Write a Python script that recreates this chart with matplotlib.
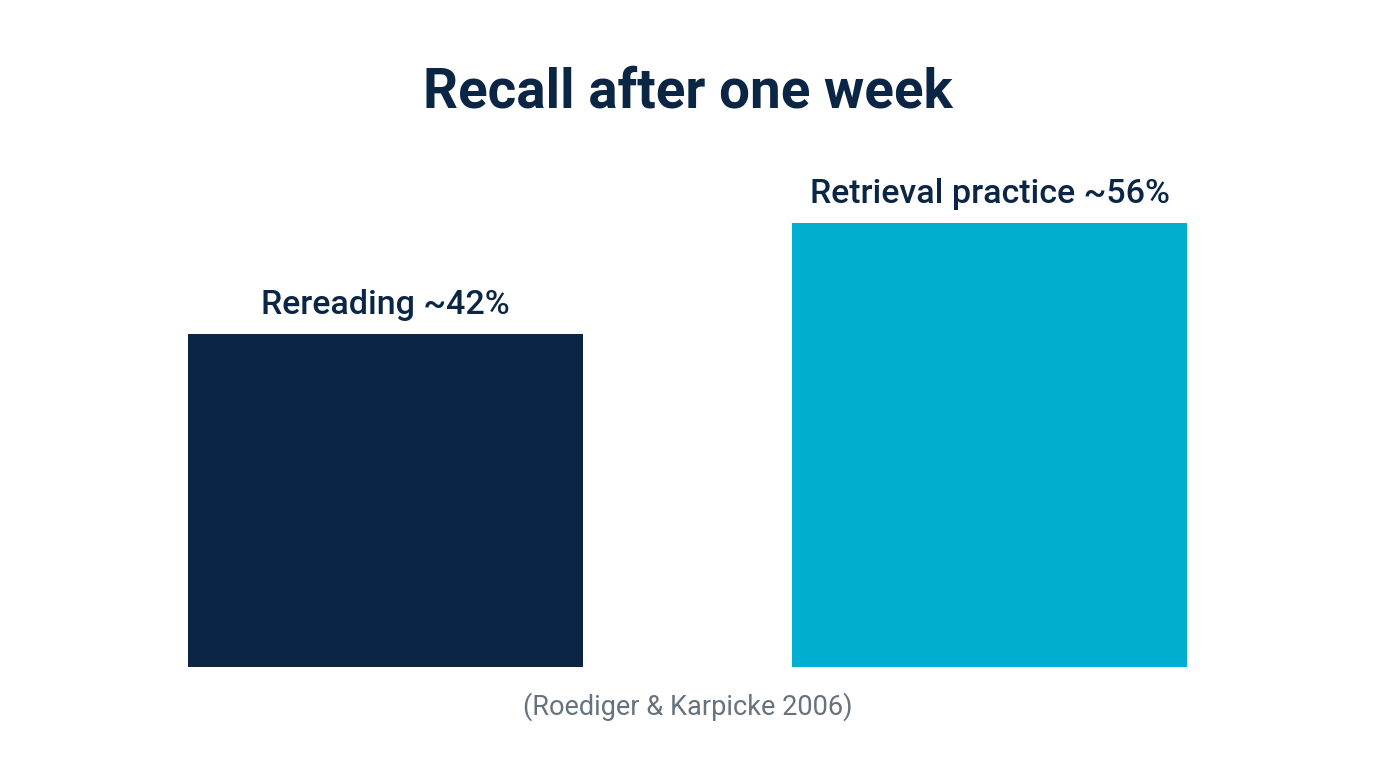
import numpy as np
import matplotlib.pyplot as plt
import matplotlib as mpl

mpl.rc('font', family='Roboto')

# Data
methods = ["Rereading", "Retrieval practice"]
recall = [42, 56]
labels = ["Rereading ~42%", "Retrieval practice ~56%"]
colors = ["#0b2644", "#00afcf"]

fig = plt.figure(figsize=(13.76, 7.68), dpi=100)
ax = fig.add_axes([0.0607, 0.1315, 0.878, 0.620])

x = np.arange(len(methods))
ax.bar(x, recall, width=0.654, color=colors)
ax.set_xlim(-0.5, 1.5)
ax.set_ylim(0, 60)
ax.axis('off')

for xi, v, lab in zip(x, recall, labels):
    ax.annotate(lab, (xi, v), xytext=(0, 14.4), textcoords='offset points',
                ha='center', va='baseline', fontsize=24.5, fontweight='medium',
                color="#0b2644")

fig.text(0.5, 1 - 107/768, "Recall after one week", ha='center', va='baseline',
         fontsize=39.4, fontweight='bold', color="#0b2644")
fig.text(0.5, 1 - 715/768, "(Roediger & Karpicke 2006)", ha='center', va='baseline',
         fontsize=19.5, color="#66727c")

fig.savefig("out.png", dpi=100)
